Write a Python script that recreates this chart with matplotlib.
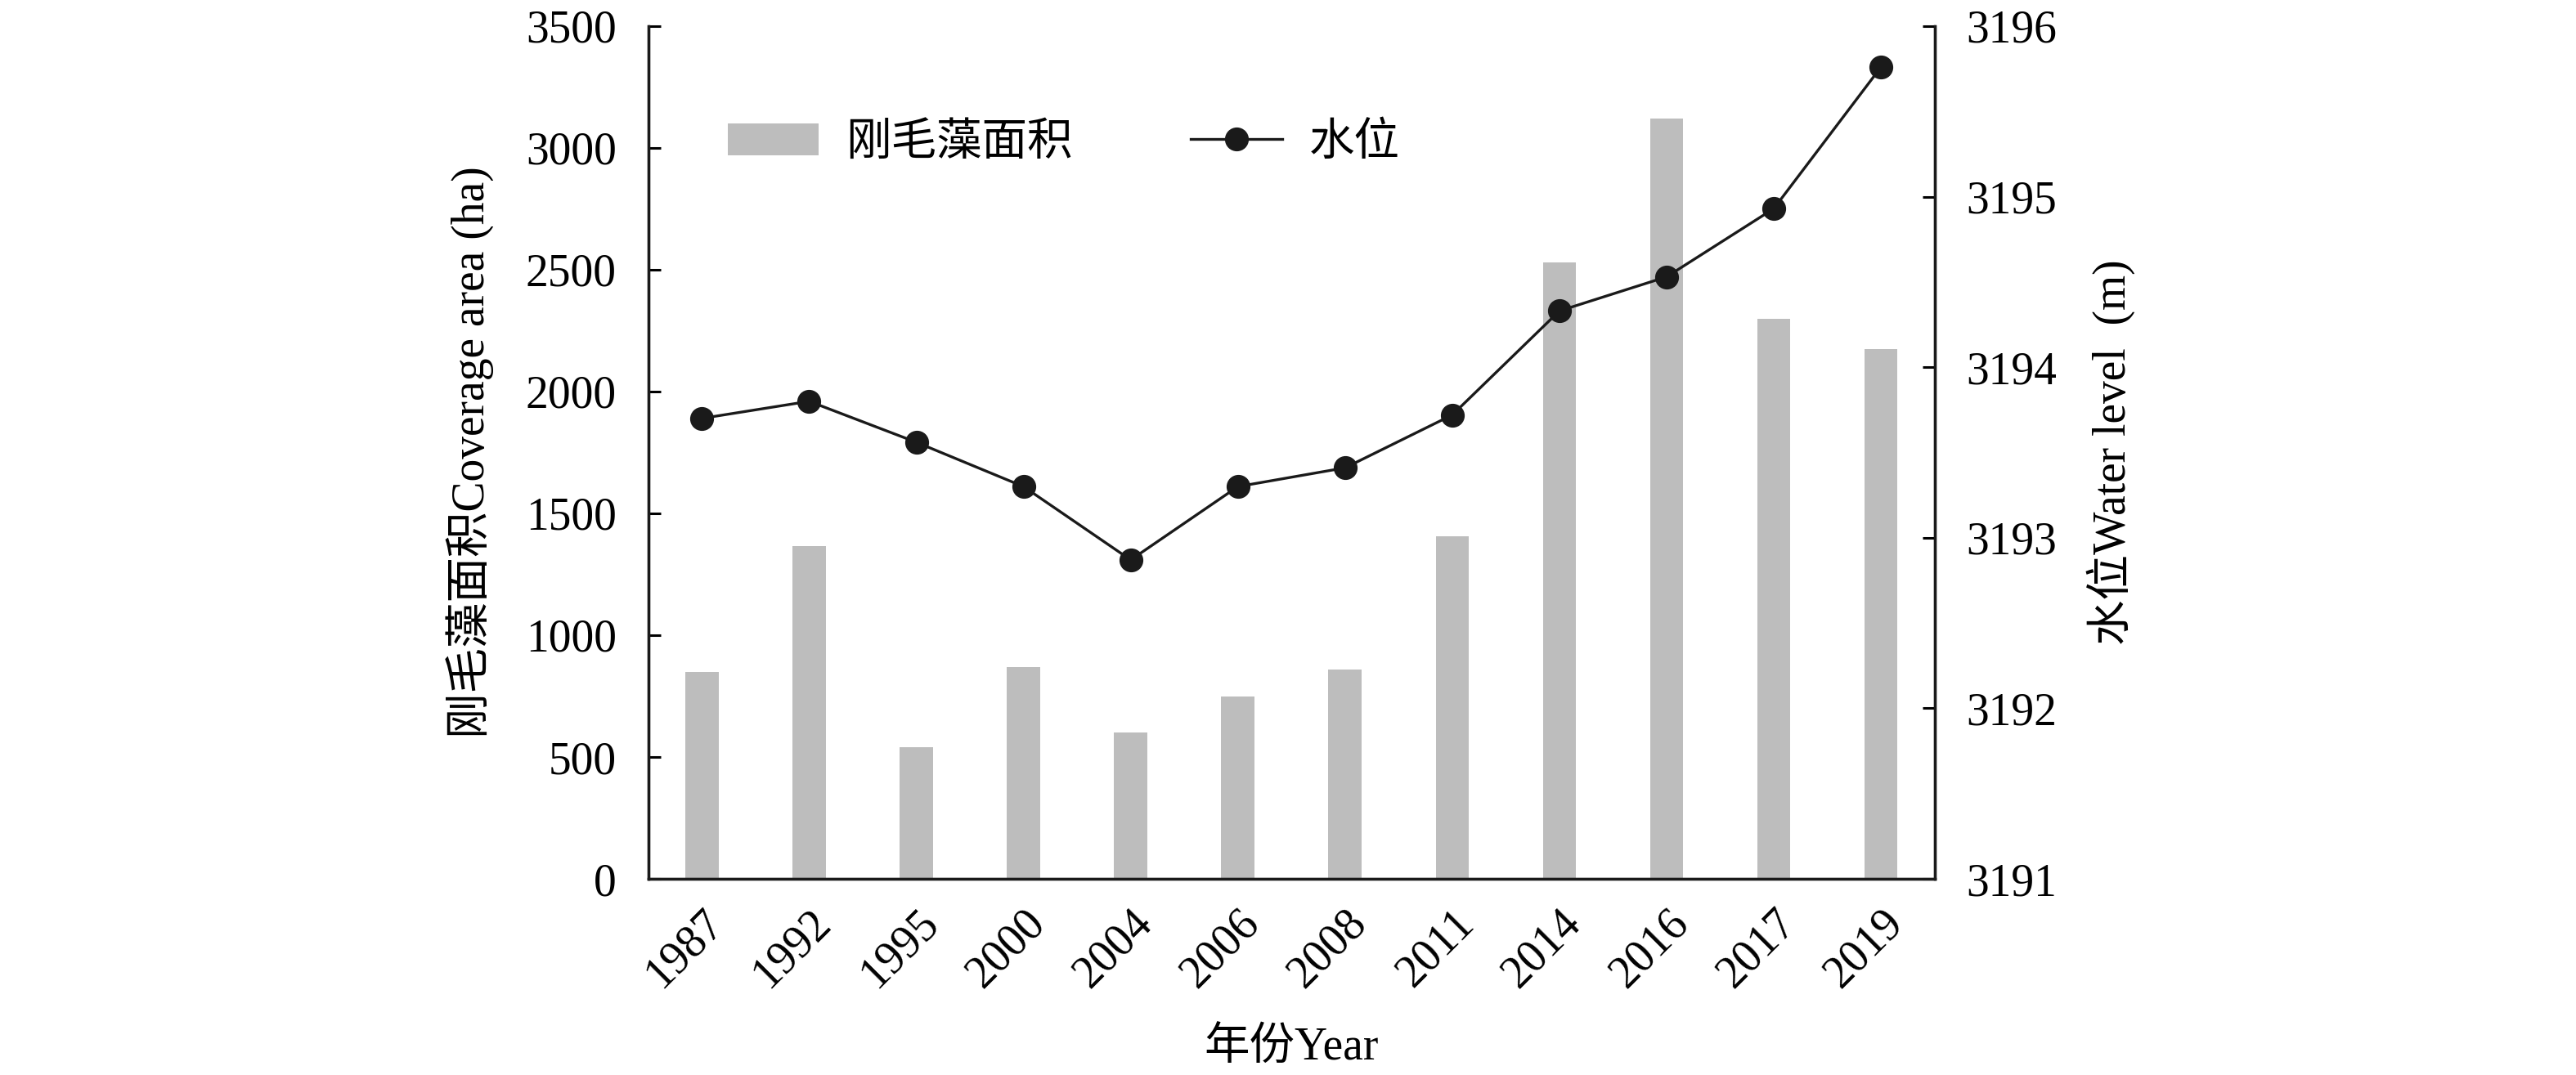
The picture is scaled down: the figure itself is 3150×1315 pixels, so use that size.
import matplotlib
matplotlib.use("Agg")
import matplotlib.pyplot as plt
import numpy as np

# data
years = ["1987", "1992", "1995", "2000", "2004", "2006", "2008",
         "2011", "2014", "2016", "2017", "2019"]
coverage_area = [850, 1365, 540, 870, 600, 750, 860, 1405, 2530, 3120, 2300, 2175]
water_level = [3193.70, 3193.80, 3193.56, 3193.30, 3192.87, 3193.30, 3193.41,
               3193.72, 3194.33, 3194.53, 3194.93, 3195.76]

plt.rcParams['font.family'] = ['Liberation Serif', 'Noto Sans CJK SC']
plt.rcParams['font.size'] = 40

fig = plt.figure(figsize=(31.5, 13.15), dpi=100)
ax = fig.add_axes([0.2517, 0.1825, 0.4993, 0.7932])
ax2 = ax.twinx()

x = np.arange(len(years))
bars = ax.bar(x, coverage_area, width=0.31, color='#bdbdbd', label='刚毛藻面积', zorder=1)
line, = ax2.plot(x, water_level, color='#1a1a1a', lw=2.4, marker='o',
                 markersize=20, label='水位')

ax.set_xlim(-0.5, len(years) - 0.5)
ax.set_ylim(0, 3500)
ax.set_yticks(range(0, 3501, 500))
ax2.set_ylim(3191, 3196)
ax2.set_yticks(range(3191, 3197))

ax.set_xticks(x)
ax.set_xticklabels(years, rotation=45, ha='right', rotation_mode='anchor')
ax.tick_params(axis='x', length=0, pad=20)
ax.tick_params(axis='y', direction='in', length=11, width=2.2, pad=28)
ax2.tick_params(axis='y', direction='in', length=11, width=2.2, pad=28)

for a in (ax, ax2):
    a.spines['top'].set_visible(False)
    for s in ('left', 'right', 'bottom'):
        a.spines[s].set_linewidth(2.4)
        a.spines[s].set_color('#1a1a1a')

ax.set_xlabel('年份Year', labelpad=28)
ax.set_ylabel('刚毛藻面积Coverage area (ha)', labelpad=28)
ax2.set_ylabel('水位Water level  (m)', labelpad=26)

ax2.legend([bars, line], ['刚毛藻面积', '水位'], loc='upper left',
           bbox_to_anchor=(0.03, 0.935), ncol=2, frameon=False,
           handlelength=2.0, columnspacing=2.6, handletextpad=0.6)

fig.savefig('out.png', dpi=100)
